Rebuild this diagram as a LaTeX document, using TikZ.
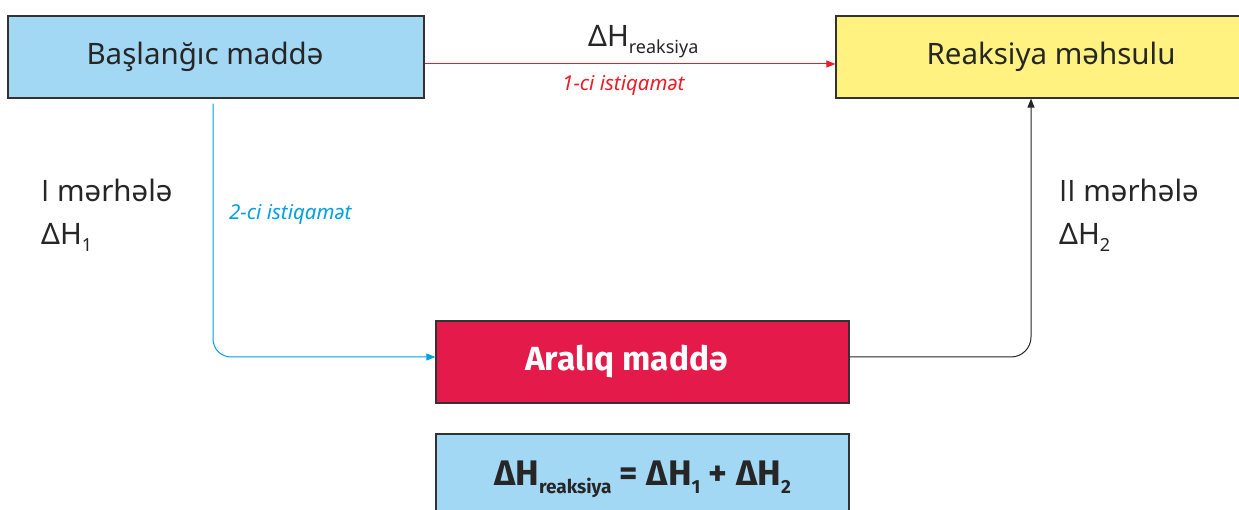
\documentclass[tikz,border=0pt]{standalone}
\usepackage{fontspec}
\setmainfont{Noto Sans}
\newfontfamily\boldfam{Fira Sans}
\newfontfamily\osans{Open Sans}
\usetikzlibrary{arrows.meta}
\definecolor{lblue}{RGB}{163,216,245}
\definecolor{lyellow}{RGB}{255,242,128}
\definecolor{crimson}{RGB}{228,26,74}
\definecolor{arrred}{RGB}{232,30,40}
\definecolor{arrblue}{RGB}{0,160,225}
\definecolor{txt}{RGB}{38,38,38}
\definecolor{edge}{RGB}{50,50,50}
\tikzset{
  box/.style={draw=edge, line width=1.2pt, minimum height=82pt, inner sep=0pt, text=txt,
              font=\fontsize{29.5}{34}\selectfont},
  lbl/.style={anchor=base west, inner sep=0pt, text=txt, font=\fontsize{29.5}{34}\selectfont},
  dir/.style={anchor=base west, inner sep=0pt, font=\fontsize{20.5}{24}\selectfont\itshape},
  tip/.style={-{Triangle[length=9pt,width=7pt]}},
}
\newcommand{\sbig}[1]{\raisebox{-7pt}{\fontsize{18}{18}\selectfont #1}}
\newcommand{\sbold}[1]{\raisebox{-8pt}{\fontsize{19}{19}\selectfont\boldfam\bfseries #1}}
\begin{document}
\begin{tikzpicture}[x=1pt,y=-1pt]
\useasboundingbox (0,0) rectangle (1239,510);
\clip (0,0) rectangle (1239,510);
\fill[white] (0,0) rectangle (1239,510);

\node[box, fill=lblue, minimum width=416pt] (start) at (216,57) {Başlanğıc maddə\hspace*{22pt}};
\node[box, fill=lyellow, minimum width=430pt] (prod) at (1051,57) {Reaksiya məhsulu};
\node[box, fill=crimson, minimum width=413pt, text=white, font=\fontsize{33.5}{36}\selectfont\boldfam\bfseries] (mid) at (642.5,362) {Aralıq maddə\hspace*{32pt}};
\node[box, fill=lblue, minimum width=413pt, minimum height=90pt, font=\fontsize{35.5}{38}\selectfont\boldfam\bfseries] (sum) at (642.5,479)
  {\raisebox{9pt}{ΔH\sbold{reaksiya} = ΔH\sbold{1} + ΔH\sbold{2}}};

\node[lbl] (dhr) at (588,47) {ΔH\sbig{reaksiya}};
\node[dir, text=arrred] (d1) at (562,91) {1-ci istiqamət};
\node[dir, text=arrblue] (d2) at (229,220) {2-ci istiqamət};
\node[lbl] (m1) at (41,202) {{\osans I} mərhələ};
\node[lbl] (h1) at (41,245) {ΔH\sbig{1}};
\node[lbl] (m2) at (1059,202) {{\osans II} mərhələ};
\node[lbl] (h2) at (1059,245) {ΔH\sbig{2}};

\draw[tip, arrred, line width=1pt] ([yshift=-7pt]start.east) -- ([yshift=-7pt]prod.west);
\draw[tip, arrblue, line width=1pt, rounded corners=18pt] ([xshift=-3pt,yshift=-5pt]start.south) |- ([yshift=5pt]mid.west);
\draw[tip, txt, line width=1pt, rounded corners=20pt] ([yshift=5pt]mid.east) -| ([xshift=-20pt]prod.south);
\end{tikzpicture}
\end{document}
